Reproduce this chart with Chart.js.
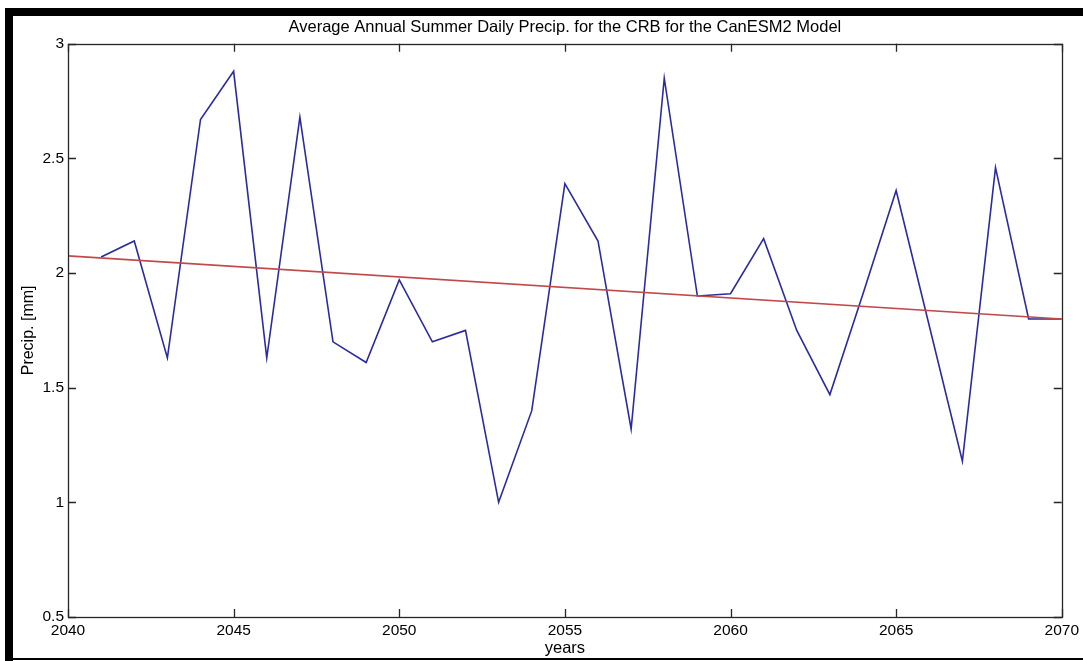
<!DOCTYPE html>
<html>
<head>
<meta charset="utf-8">
<title>Average Annual Summer Daily Precip. for the CRB for the CanESM2 Model</title>
<script src="https://cdn.jsdelivr.net/npm/chart.js@4"></script>
<style>
  html, body { margin: 0; padding: 0; background: #ffffff; }
  #wrap { width: 1083px; height: 661px; }
</style>
</head>
<body>
<div id="wrap"><canvas id="chart" width="1083" height="661"></canvas></div>
<script>
// Summer daily precipitation, yearly averages (mm)
const years = [2041, 2042, 2043, 2044, 2045, 2046, 2047, 2048, 2049, 2050,
               2051, 2052, 2053, 2054, 2055, 2056, 2057, 2058, 2059, 2060,
               2061, 2062, 2063, 2064, 2065, 2066, 2067, 2068, 2069, 2070];
const precip = [2.07, 2.14, 1.63, 2.67, 2.88, 1.63, 2.68, 1.70, 1.61, 1.97,
                1.70, 1.75, 1.00, 1.40, 2.39, 2.14, 1.32, 2.85, 1.90, 1.91,
                2.15, 1.75, 1.47, 1.91, 2.36, 1.77, 1.18, 2.46, 1.80, 1.80];

// Linear trend line end points
const trendYears = [2040, 2070];
const trendValues = [2.075, 1.80];

// Axis tick labels
const xTicks = [2040, 2045, 2050, 2055, 2060, 2065, 2070];
const yTicks = [0.5, 1, 1.5, 2, 2.5, 3];

const FONT = '"Liberation Sans", Arial, Helvetica, sans-serif';

// Black picture frame and MATLAB-style axes box with inward ticks
const axesBox = {
  id: 'axesBox',
  beforeDraw(chart) {
    const ctx = chart.ctx;
    ctx.save();
    ctx.fillStyle = '#ffffff';
    ctx.fillRect(0, 0, chart.width, chart.height);
    ctx.fillStyle = '#000000';
    ctx.fillRect(5, 8, chart.width - 5, 8);     // top band
    ctx.fillRect(5, 8, 8, chart.height - 8);    // left band
    ctx.fillRect(5, 658, chart.width - 5, 2);   // bottom rule
    ctx.restore();
  },
  afterDraw(chart) {
    const ctx = chart.ctx;
    const a = chart.chartArea;
    const xs = chart.scales.x, ys = chart.scales.y;
    const tl = 8;
    ctx.save();
    ctx.strokeStyle = '#262626';
    ctx.lineWidth = 1.3;
    ctx.beginPath();
    xTicks.forEach(v => {
      const px = Math.round(xs.getPixelForValue(v)) + 0.5;
      ctx.moveTo(px, a.bottom); ctx.lineTo(px, a.bottom - tl);
      ctx.moveTo(px, a.top);    ctx.lineTo(px, a.top + tl);
    });
    yTicks.forEach(v => {
      const py = Math.round(ys.getPixelForValue(v)) + 0.5;
      ctx.moveTo(a.left, py);  ctx.lineTo(a.left + tl, py);
      ctx.moveTo(a.right, py); ctx.lineTo(a.right - tl, py);
    });
    ctx.stroke();
    ctx.strokeRect(Math.round(a.left) + 0.5, Math.round(a.top) + 0.5,
                   Math.round(a.right - a.left), Math.round(a.bottom - a.top));
    ctx.restore();
  }
};

new Chart(document.getElementById('chart'), {
  type: 'line',
  data: {
    datasets: [
      {
        label: 'Precip.',
        data: years.map((y, i) => ({ x: y, y: precip[i] })),
        borderColor: '#2b2ba0',
        borderWidth: 1.6,
        pointRadius: 0,
        tension: 0,
        fill: false,
        order: 1
      },
      {
        label: 'Trend',
        data: trendYears.map((y, i) => ({ x: y, y: trendValues[i] })),
        borderColor: '#c04a4a',
        borderWidth: 1.6,
        pointRadius: 0,
        tension: 0,
        fill: false,
        order: 0
      }
    ]
  },
  options: {
    responsive: false,
    animation: false,
    events: [],
    layout: { padding: { left: 14, top: 16, right: 21, bottom: 0 } },
    plugins: {
      legend: { display: false },
      tooltip: { enabled: false },
      title: {
        display: true,
        fullSize: false,
        text: 'Average Annual Summer Daily Precip. for the CRB for the CanESM2 Model',
        color: '#000000',
        font: { family: FONT, size: 16.5, weight: 'normal', lineHeight: 1.2 },
        padding: { top: 2, bottom: 6 }
      }
    },
    scales: {
      x: {
        type: 'linear',
        min: 2040,
        max: 2070,
        afterBuildTicks: s => { s.ticks = xTicks.map(v => ({ value: v })); },
        afterFit: s => { s.height = 44; },
        grid: { display: false, drawTicks: false },
        border: { display: false },
        ticks: {
          color: '#000000',
          font: { family: FONT, size: 15.5 },
          padding: 4,
          maxRotation: 0,
          autoSkip: false,
          callback: v => String(v)
        },
        title: {
          display: true,
          text: 'years',
          color: '#000000',
          font: { family: FONT, size: 16.5, lineHeight: 1.2 },
          padding: { top: 0, bottom: 3 }
        }
      },
      y: {
        type: 'linear',
        min: 0.5,
        max: 3,
        afterBuildTicks: s => { s.ticks = yTicks.map(v => ({ value: v })); },
        afterFit: s => { s.width = 54; },
        grid: { display: false, drawTicks: false },
        border: { display: false },
        ticks: {
          color: '#000000',
          font: { family: FONT, size: 15.5 },
          padding: 4,
          autoSkip: false,
          callback: v => String(v)
        },
        title: {
          display: true,
          text: 'Precip. [mm]',
          color: '#000000',
          font: { family: FONT, size: 16, lineHeight: 1.2 },
          padding: { top: 5, bottom: 0 }
        }
      }
    }
  },
  plugins: [axesBox]
});
</script>
</body>
</html>
